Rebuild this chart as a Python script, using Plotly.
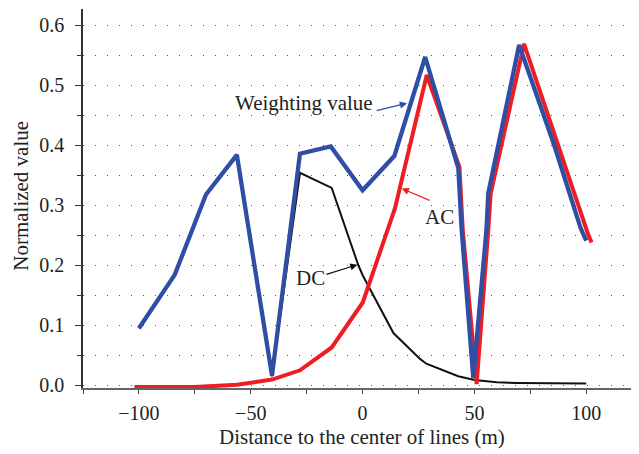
import plotly.graph_objects as go

# Weighting value (blue)
w_x = [-100, -84, -70, -56.2, -40.5, -28, -14.2, 0, 14.2, 28, 42.8, 44.3, 49.5, 55.4, 56.2, 70, 85.7, 97.5, 100]
w_y = [0.095, 0.184, 0.318, 0.384, 0.016, 0.386, 0.398, 0.325, 0.382, 0.547, 0.362, 0.26, 0.012, 0.26, 0.32, 0.567, 0.40, 0.262, 0.241]

# AC (red)
ac_x = [-102, -85, -75, -56.2, -40.5, -28, -13.8, 0.1, 14.5, 28.7, 43.3, 44.8, 51, 56.2, 57.3, 72.2, 86, 99.8, 100.9, 102.4]
ac_y = [-0.003, -0.003, -0.003, 0.001, 0.0095, 0.025, 0.063, 0.138, 0.295, 0.517, 0.364, 0.259, 0.002, 0.259, 0.32, 0.569, 0.414, 0.259, 0.251, 0.238]

# DC (black)
dc_x = [-100, -84, -70, -56.2, -40.5, -28, -13.8, -1.9, 0.1, 13.8, 25.7, 28.5, 42.8, 50, 60, 68.9, 100]
dc_y = [0.095, 0.184, 0.318, 0.384, 0.015, 0.354, 0.329, 0.2, 0.183, 0.087, 0.044, 0.036, 0.015, 0.009, 0.005, 0.004, 0.003]

x_ticks = [-100, -50, 0, 50, 100]
y_ticks = [0.0, 0.1, 0.2, 0.3, 0.4, 0.5, 0.6]
y_ticktext = ["0.0", "0.1", "0.2", "0.3", "0.4", "0.5", "0.6"]

BLUE = "#2f4ea6"
RED = "#ee1d23"
BLACK = "#111111"
FONT = "Liberation Serif"
TXT = "#222222"

fig = go.Figure()
fig.add_trace(go.Scatter(x=dc_x, y=dc_y, mode="lines", line=dict(color=BLACK, width=2), name="DC"))
fig.add_trace(go.Scatter(x=ac_x, y=ac_y, mode="lines", line=dict(color=RED, width=4), name="AC"))
fig.add_trace(go.Scatter(x=w_x, y=w_y, mode="lines", line=dict(color=BLUE, width=4.3), name="Weighting value"))

# The page body has an 8px margin; figure sized to fit the 639x454 window.
fig.update_layout(
    width=631, height=446,
    margin=dict(l=75, r=0, t=1, b=65.5, autoexpand=False),
    paper_bgcolor="white", plot_bgcolor="white",
    showlegend=False,
    font=dict(family=FONT, size=20, color=TXT),
    xaxis=dict(
        range=[-125, 123.6],
        tickvals=x_ticks,
        tickfont=dict(family=FONT, size=20, color=TXT),
        ticks="outside", ticklen=4, tickwidth=1.2, tickcolor="#444444",
        showline=True, linecolor="#666666", linewidth=2,
        showgrid=False, zeroline=False, automargin=False,
        minor=dict(dtick=25, tick0=0, ticks="outside", ticklen=4, tickwidth=1.2, tickcolor="#444444", showgrid=False),
        ticklabelstandoff=2,
    ),
    yaxis=dict(
        range=[-0.0045, 0.627],
        tickvals=y_ticks, ticktext=y_ticktext,
        tickfont=dict(family=FONT, size=20, color=TXT),
        ticks="outside", ticklen=6, tickwidth=1.2, tickcolor="#333333",
        showline=True, linecolor="#333333", linewidth=1.5,
        zeroline=False, automargin=False,
        showgrid=True, gridcolor="#555555", gridwidth=1, griddash="1px,11px",
        minor=dict(dtick=0.05, tick0=0, ticks="outside", ticklen=4, tickwidth=1.2, tickcolor="#333333",
                   showgrid=True, gridcolor="#555555", gridwidth=1, griddash="1px,11px"),
        ticklabelstandoff=7,
    ),
)

# Axis titles
fig.add_annotation(x=(362 - 83) / 556, y=(388.5 - 438) / 379.5, xref="paper", yref="paper",
                   text="Distance to the center of lines (m)", showarrow=False,
                   xanchor="center", yanchor="middle", font=dict(size=21, color=TXT, family=FONT))
fig.add_annotation(x=(21 - 83) / 556, y=(388.5 - 196) / 379.5, xref="paper", yref="paper",
                   text="Normalized value", showarrow=False, textangle=-90,
                   xanchor="center", yanchor="middle", font=dict(size=21, color=TXT, family=FONT))

# Text labels
fig.add_annotation(x=-26.2, y=0.470, xref="x", yref="y", text="Weighting value", showarrow=False,
                   font=dict(size=21, color=TXT, family=FONT))
fig.add_annotation(x=34.2, y=0.280, xref="x", yref="y", text="AC", showarrow=False,
                   font=dict(size=21, color=TXT, family=FONT))
fig.add_annotation(x=-23.5, y=0.179, xref="x", yref="y", text="DC", showarrow=False,
                   font=dict(size=21, color=TXT, family=FONT))

# Arrows
fig.add_annotation(x=19.9, y=0.470, ax=5.6, ay=0.457, xref="x", yref="y", axref="x", ayref="y",
                   text="", showarrow=True, arrowhead=2, arrowsize=1.2, arrowwidth=1.2, arrowcolor=BLUE)
fig.add_annotation(x=17.5, y=0.328, ax=30.6, ay=0.307, xref="x", yref="y", axref="x", ayref="y",
                   text="", showarrow=True, arrowhead=2, arrowsize=1.2, arrowwidth=1.2, arrowcolor=RED)
fig.add_annotation(x=-2.3, y=0.201, ax=-16.8, ay=0.184, xref="x", yref="y", axref="x", ayref="y",
                   text="", showarrow=True, arrowhead=2, arrowsize=1.2, arrowwidth=1.2, arrowcolor=BLACK)

fig.write_html("out.html")
